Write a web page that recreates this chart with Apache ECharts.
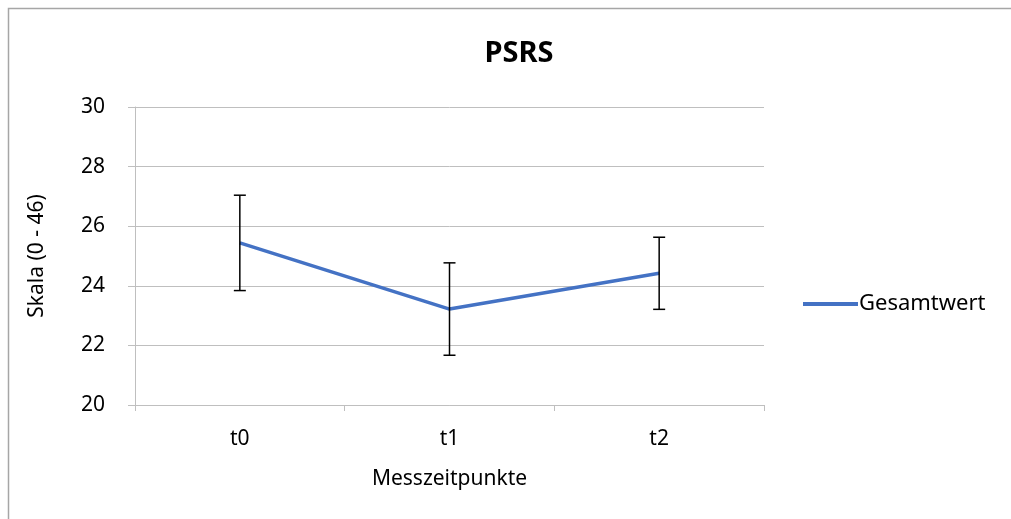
<!DOCTYPE html>
<html>
<head>
<meta charset="utf-8">
<script src="https://cdn.jsdelivr.net/npm/echarts@6/dist/echarts.min.js"></script>
<style>html,body{margin:0;padding:0;background:#fff}#c{width:1011px;height:519px}</style>
</head>
<body>
<div id="c"></div>
<script>
var categories = ['t0', 't1', 't2'];
var meanValues = [25.44, 23.22, 24.42];
var errorValues = [1.6, 1.55, 1.21];
var yTicks = [20, 22, 24, 26, 28, 30];

var FONT = '"Noto Sans", "Open Sans", sans-serif';
var FS = 21;
var chart = echarts.init(document.getElementById('c'));
var errData = categories.map(function (c, i) {
  return [i, meanValues[i] - errorValues[i], meanValues[i] + errorValues[i]];
});
chart.setOption({
  animation: false,
  backgroundColor: '#fff',
  graphic: [{
    type: 'rect', silent: true,
    shape: {x: 8.5, y: 8.5, width: 1100, height: 600},
    style: {fill: 'none', stroke: '#A6A6A6', lineWidth: 1.5}
  }],
  title: {
    text: 'PSRS', left: 514, top: 34, textAlign: 'center',
    textStyle: {fontFamily: FONT, fontWeight: 'bold', fontSize: 29, color: '#000'}
  },
  legend: {
    left: 798, top: 288, icon: 'rect', itemWidth: 55, itemHeight: 4, itemGap: 5,
    textStyle: {fontFamily: FONT, fontSize: 22, color: '#000', padding: [0, 0, 0, -4]},
    data: ['Gesamtwert']
  },
  grid: {left: 135, top: 107, width: 629, height: 298, containLabel: false},
  xAxis: {
    type: 'category', data: categories, boundaryGap: true,
    name: 'Messzeitpunkte', nameLocation: 'middle', nameGap: 64,
    nameTextStyle: {fontFamily: FONT, fontSize: FS, color: '#000'},
    axisLine: {lineStyle: {color: '#BFBFBF', width: 1}},
    axisTick: {show: true, length: 6, lineStyle: {color: '#BFBFBF'}},
    axisLabel: {fontFamily: FONT, fontSize: FS, color: '#000', margin: 24}
  },
  yAxis: {
    type: 'value', min: yTicks[0], max: yTicks[yTicks.length - 1], interval: 2,
    name: 'Skala (0 - 46)', nameLocation: 'middle', nameGap: 87,
    nameTextStyle: {fontFamily: FONT, fontSize: FS, color: '#000'},
    axisLine: {show: true, lineStyle: {color: '#BFBFBF', width: 1}},
    axisTick: {show: true, length: 7, lineStyle: {color: '#BFBFBF'}},
    axisLabel: {fontFamily: FONT, fontSize: FS, color: '#000', margin: 30},
    splitLine: {lineStyle: {color: '#BFBFBF', width: 1}}
  },
  series: [{
    name: 'Gesamtwert', type: 'line', data: meanValues,
    showSymbol: false, symbol: 'none',
    lineStyle: {color: '#4472C4', width: 3.5},
    itemStyle: {color: '#4472C4'}, z: 3
  }, {
    name: 'err', type: 'custom', data: errData, z: 4,
    renderItem: function (params, api) {
      var x = api.value(0);
      var lo = api.coord([x, api.value(1)]);
      var hi = api.coord([x, api.value(2)]);
      var hw = 6;
      var st = {stroke: '#000', lineWidth: 1.5};
      return {type: 'group', children: [
        {type: 'line', shape: {x1: lo[0], y1: lo[1], x2: hi[0], y2: hi[1]}, style: st},
        {type: 'line', shape: {x1: lo[0] - hw, y1: lo[1], x2: lo[0] + hw, y2: lo[1]}, style: st},
        {type: 'line', shape: {x1: hi[0] - hw, y1: hi[1], x2: hi[0] + hw, y2: hi[1]}, style: st}
      ]};
    }
  }]
});
</script>
</body>
</html>
